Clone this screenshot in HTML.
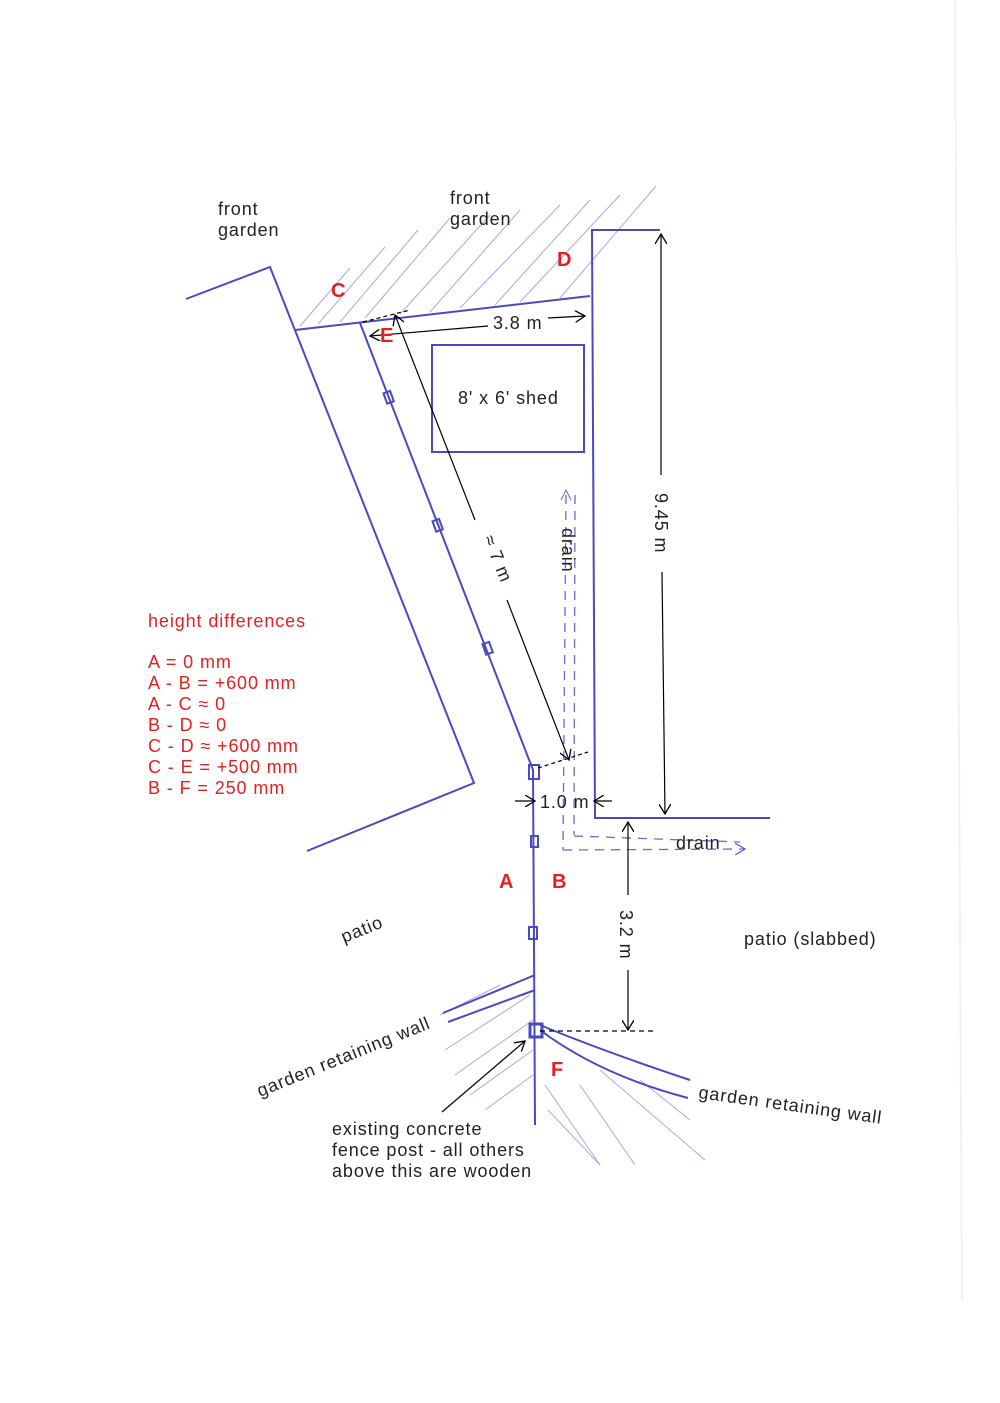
<!DOCTYPE html>
<html><head><style>
body{margin:0;background:#fff;}
svg{display:block}
text{font-family:"Liberation Sans",sans-serif;letter-spacing:0.9px;}
</style></head><body>
<svg width="1000" height="1403" viewBox="0 0 1000 1403" xmlns="http://www.w3.org/2000/svg">
<defs>
<marker id="oa" markerWidth="12" markerHeight="12" refX="10" refY="6" orient="auto" markerUnits="userSpaceOnUse"><path d="M0,0 L10,6 L0,12" fill="none" stroke="#000" stroke-width="1.3"/></marker>
<marker id="ba" markerWidth="12" markerHeight="12" refX="10" refY="6" orient="auto" markerUnits="userSpaceOnUse"><path d="M0,0 L10,6 L0,12" fill="none" stroke="#5a5ad0" stroke-width="1.3"/></marker>
</defs>
<line x1="955" y1="0" x2="962" y2="1300" stroke="#f2f2f2" stroke-width="2"/>
<g stroke="#a8a8e8" stroke-width="1">
<line x1="300" y1="326" x2="350" y2="268"/><line x1="318" y1="324" x2="385" y2="247"/>
<line x1="340" y1="322" x2="418" y2="230"/><line x1="365" y1="318" x2="450" y2="218"/>
<line x1="400" y1="314" x2="490" y2="215"/><line x1="430" y1="312" x2="520" y2="210"/>
<line x1="460" y1="308" x2="560" y2="205"/><line x1="495" y1="305" x2="590" y2="200"/>
<line x1="520" y1="302" x2="620" y2="195"/><line x1="560" y1="298" x2="656" y2="186"/>
<line x1="440" y1="1015" x2="500" y2="985"/><line x1="445" y1="1050" x2="530" y2="995"/>
<line x1="455" y1="1075" x2="533" y2="1020"/><line x1="470" y1="1095" x2="533" y2="1050"/>
<line x1="485" y1="1110" x2="533" y2="1075"/>
<line x1="545" y1="1085" x2="600" y2="1165"/><line x1="548" y1="1110" x2="600" y2="1165"/>
<line x1="580" y1="1085" x2="635" y2="1165"/><line x1="600" y1="1070" x2="705" y2="1160"/>
<line x1="640" y1="1080" x2="690" y2="1120"/>
</g>
<g stroke="#4a4ac0" stroke-width="2" fill="none">
<polyline points="186,299 270,267 474,783 307,851"/>
<line x1="295" y1="330" x2="590" y2="296"/>
<polyline points="360,323 533,770 535,1125"/>
<polyline points="660,230 592,230 595,818 770,818"/>
<rect x="432" y="345" width="152" height="107"/>
<path d="M443,1013 L535,975 M448,1022 L535,990 M540,1025 Q600,1050 690,1080 M540,1030 Q600,1075 688,1098"/>
<rect x="529" y="765" width="10" height="14"/>
<rect x="531" y="836" width="7" height="11"/><rect x="529" y="927" width="8" height="12"/>
<rect x="530" y="1024" width="12" height="13" stroke-width="3"/>
<rect x="385" y="392" width="7" height="11" transform="rotate(-20 388 397)"/>
<rect x="434" y="520" width="7" height="11" transform="rotate(-20 437 525)"/>
<rect x="484" y="643" width="7" height="11" transform="rotate(-20 487 648)"/>
</g>
<g stroke="#6a6ad6" stroke-width="1.3" stroke-dasharray="9,7" fill="none">
<line x1="566" y1="495" x2="563" y2="850"/><line x1="575" y1="495" x2="574" y2="835"/>
<line x1="563" y1="850" x2="745" y2="849" marker-end="url(#ba)"/><line x1="574" y1="836" x2="740" y2="842"/>
</g>
<path d="M561,500 L566,490 L571,500" stroke="#6a6ad6" fill="none"/>
<g stroke="#000" stroke-width="1.2" fill="none">
<line x1="488" y1="326" x2="370" y2="336" marker-end="url(#oa)"/>
<line x1="548" y1="318" x2="585" y2="316" marker-end="url(#oa)"/>
<line x1="475" y1="520" x2="395" y2="315" marker-end="url(#oa)"/>
<line x1="507" y1="600" x2="569" y2="760" marker-end="url(#oa)"/>
<line x1="363" y1="322" x2="410" y2="310" stroke-dasharray="4,3"/>
<line x1="538" y1="768" x2="588" y2="752" stroke-dasharray="4,3"/>
<line x1="661" y1="475" x2="661" y2="234" marker-end="url(#oa)"/>
<line x1="662" y1="572" x2="665" y2="814" marker-end="url(#oa)"/>
<line x1="515" y1="801" x2="535" y2="801" marker-end="url(#oa)"/>
<line x1="612" y1="801" x2="594" y2="801" marker-end="url(#oa)"/>
<line x1="628" y1="895" x2="628" y2="822" marker-end="url(#oa)"/>
<line x1="628" y1="970" x2="628" y2="1030" marker-end="url(#oa)"/>
<line x1="540" y1="1031" x2="655" y2="1031" stroke-dasharray="5,4"/>
<line x1="442" y1="1112" x2="525" y2="1041" marker-end="url(#oa)"/>
</g>
<g font-size="18" fill="#222">
<text x="218" y="215">front</text><text x="218" y="236">garden</text>
<text x="450" y="204">front</text><text x="450" y="225">garden</text>
<text x="493" y="329">3.8 m</text>
<text x="458" y="404">8' x 6' shed</text>
<text x="540" y="808">1.0 m</text>
<text x="676" y="849">drain</text>
<text x="744" y="945">patio (slabbed)</text>
<text x="332" y="1135">existing concrete</text>
<text x="332" y="1156">fence post - all others</text>
<text x="332" y="1177">above this are wooden</text>
<text transform="translate(344,943) rotate(-22)">patio</text>
<text transform="translate(260,1097) rotate(-22)">garden retaining wall</text>
<text transform="translate(698,1098) rotate(8)">garden retaining wall</text>
<text transform="translate(655,493) rotate(90)">9.45 m</text>
<text transform="translate(620,910) rotate(90)">3.2 m</text>
<text transform="translate(562,528) rotate(90)">drain</text>
<text transform="translate(483,538) rotate(68)">≈ 7 m</text>
</g>
<g font-size="20" font-weight="bold" fill="#e52020">
<text x="331" y="297">C</text><text x="557" y="266">D</text><text x="380" y="342">E</text>
<text x="499" y="888">A</text><text x="552" y="888">B</text><text x="551" y="1076">F</text>
</g>
<g font-size="18" fill="#e52020">
<text x="148" y="627">height differences</text>
<text x="148" y="668">A = 0 mm</text>
<text x="148" y="689">A - B = +600 mm</text>
<text x="148" y="710">A - C ≈ 0</text>
<text x="148" y="731">B - D ≈ 0</text>
<text x="148" y="752">C - D ≈ +600 mm</text>
<text x="148" y="773">C - E = +500 mm</text>
<text x="148" y="794">B - F  = 250 mm</text>
</g>
</svg>
</body></html>
